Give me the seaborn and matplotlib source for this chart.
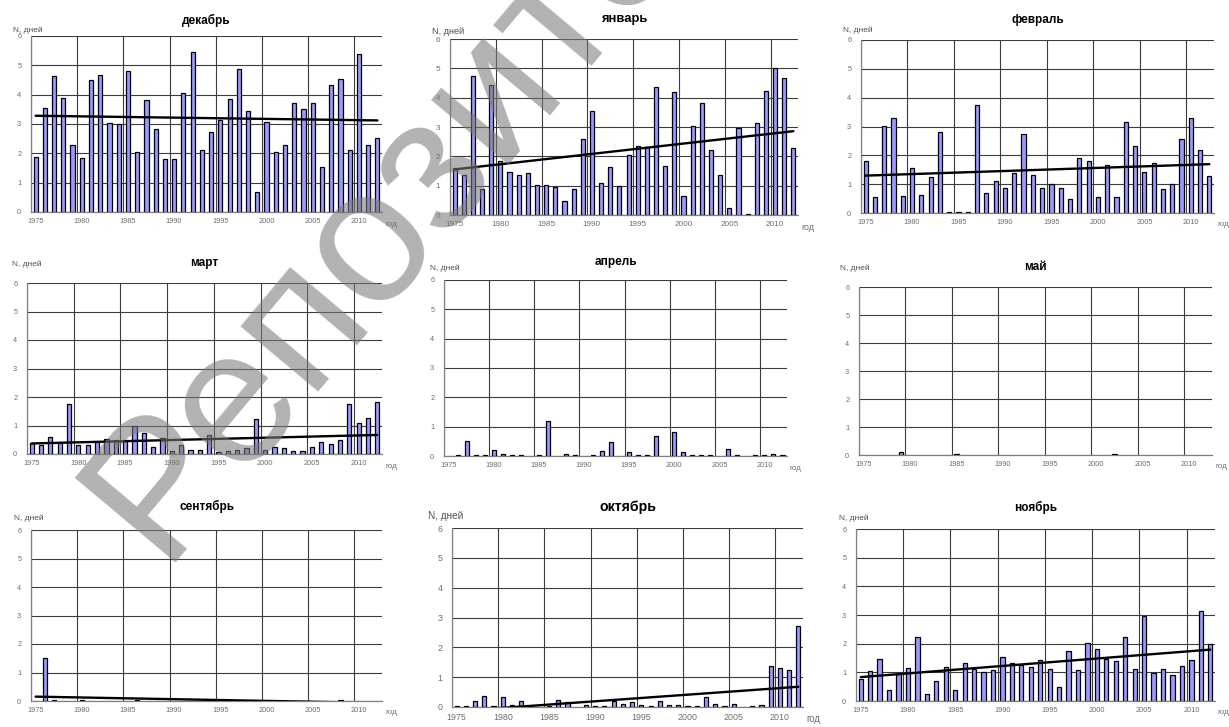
import numpy as np
import pandas as pd
import matplotlib
matplotlib.use("Agg")
import matplotlib.pyplot as plt
import seaborn as sns

years = list(range(1975, 2013))

dec = [1.87, 3.55, 4.65, 3.90, 2.28, 1.83, 4.50, 4.67, 3.03, 3.00, 4.80, 2.05, 3.82,
       2.82, 1.80, 1.80, 4.05, 5.45, 2.13, 2.72, 3.13, 3.85, 4.88, 3.43, 0.67, 3.07,
       2.03, 2.28, 3.70, 3.50, 3.73, 1.53, 4.33, 4.55, 2.10, 5.37, 2.27, 2.53]
jan = [1.60, 1.38, 4.73, 0.87, 4.43, 1.85, 1.48, 1.38, 1.43, 1.03, 1.03, 0.95, 0.47,
       0.87, 2.58, 3.55, 1.08, 1.65, 0.98, 2.03, 2.35, 2.32, 4.37, 1.67, 4.18, 0.65,
       3.02, 3.82, 2.20, 1.37, 0.23, 2.95, 0.03, 3.12, 4.22, 5.00, 4.67, 2.30]
feb = [1.80, 0.55, 3.02, 3.28, 0.58, 1.55, 0.62, 1.25, 2.80, 0.05, 0.05, 0.02, 3.73,
       0.68, 1.10, 0.85, 1.38, 2.73, 1.32, 0.88, 1.00, 0.88, 0.48, 1.90, 1.80, 0.55,
       1.65, 0.55, 3.15, 2.32, 1.42, 1.72, 0.82, 1.00, 2.57, 3.28, 2.20, 1.28]
mar = [0.38, 0.33, 0.58, 0.38, 1.75, 0.33, 0.33, 0.42, 0.52, 0.48, 0.48, 0.98, 0.72,
       0.25, 0.55, 0.10, 0.32, 0.13, 0.13, 0.67, 0.07, 0.10, 0.13, 0.20, 1.23, 0.13,
       0.23, 0.20, 0.10, 0.10, 0.25, 0.42, 0.35, 0.48, 1.75, 1.08, 1.25, 1.82]
apr = [0.00, 0.05, 0.52, 0.05, 0.05, 0.22, 0.08, 0.03, 0.05, 0.00, 0.03, 1.20, 0.00,
       0.07, 0.03, 0.00, 0.03, 0.17, 0.48, 0.00, 0.12, 0.03, 0.02, 0.68, 0.00, 0.82,
       0.12, 0.05, 0.03, 0.02, 0.00, 0.25, 0.02, 0.00, 0.02, 0.05, 0.08, 0.05]
may = [0.00, 0.00, 0.00, 0.00, 0.10, 0.00, 0.00, 0.00, 0.00, 0.00, 0.02, 0.00, 0.00,
       0.00, 0.00, 0.00, 0.00, 0.00, 0.00, 0.00, 0.00, 0.00, 0.00, 0.00, 0.00, 0.00,
       0.00, 0.02, 0.00, 0.00, 0.00, 0.00, 0.00, 0.00, 0.00, 0.00, 0.00, 0.00]
sep = [0.00, 1.52, 0.03, 0.00, 0.00, 0.02, 0.00, 0.00, 0.00, 0.00, 0.00, 0.03, 0.00,
       0.00, 0.00, 0.00, 0.00, 0.00, 0.00, 0.00, 0.00, 0.00, 0.00, 0.00, 0.00, 0.00,
       0.00, 0.00, 0.00, 0.00, 0.00, 0.00, 0.00, 0.02, 0.00, 0.00, 0.00, 0.00]
octo = [0.05, 0.03, 0.20, 0.38, 0.03, 0.33, 0.08, 0.20, 0.00, 0.00, 0.03, 0.22, 0.18,
        0.00, 0.07, 0.05, 0.05, 0.20, 0.10, 0.17, 0.08, 0.05, 0.20, 0.07, 0.08, 0.05,
        0.05, 0.33, 0.10, 0.02, 0.10, 0.00, 0.03, 0.08, 1.38, 1.30, 1.25, 2.70]
nov = [0.78, 1.05, 1.45, 0.38, 0.95, 1.15, 2.22, 0.25, 0.70, 1.18, 0.38, 1.33, 1.10,
       1.02, 1.08, 1.53, 1.32, 1.25, 1.20, 1.43, 1.10, 0.48, 1.73, 1.08, 2.03, 1.80,
       1.45, 1.40, 2.25, 1.12, 2.95, 0.98, 1.12, 0.90, 1.22, 1.43, 3.13, 1.98]

titles = ["декабрь", "январь", "февраль", "март", "апрель", "май",
          "сентябрь", "октябрь", "ноябрь"]
series = [dec, jan, feb, mar, apr, may, sep, octo, nov]
has_trend = [True, True, True, True, False, False, True, True, True]
tick_years = list(range(1975, 2011, 5))
y_label = "N, дней"
x_label = "год"
watermark = "Репозиторий"

sns.set_theme(style="white")
plt.rcParams["font.family"] = ["Liberation Sans", "DejaVu Sans"]

W, H = 1229, 727
fig = plt.figure(figsize=(W / 100, H / 100), dpi=100)

# left, right, top, bottom in pixels
boxes = [(31, 382, 36, 212), (450, 798, 39, 215), (861, 1214, 40, 213),
         (27, 382, 283, 454), (444, 787, 280, 456), (859, 1212, 287, 455),
         (31, 382, 530, 701), (452, 803, 528, 707), (856, 1215, 529, 701)]
title_off = [16, 20, 20, 20, 18, 20, 24, 21, 22]
ylab_off = [(-18, 6), (-18, 8), (-18, 10), (-15, 19), (-14, 12), (-19, 19),
            (-17, 12), (-24, 12), (-17, 11)]
fscale = [1.0, 1.1, 1.0, 1.0, 1.0, 1.0, 1.0, 1.2, 1.0]

grid_c = "#3c3c3c"
lab_c = "#6e6e6e"

for i, (title, vals) in enumerate(zip(titles, series)):
    l, r, t, b = boxes[i]
    ax = fig.add_axes([l / W, 1 - b / H, (r - l) / W, (b - t) / H])
    df = pd.DataFrame({"year": years, "n": vals})
    df["pos"] = df["year"] + 0.5
    sns.barplot(data=df, x="pos", y="n", native_scale=True, width=0.45,
                color="#9999ff", saturation=1, edgecolor="black", linewidth=0.9,
                errorbar=None, ax=ax, zorder=3)
    for p in ax.patches:
        if p.get_height() == 0:
            p.set_visible(False)
    if has_trend[i]:
        sns.regplot(data=df, x="pos", y="n", scatter=False, ci=None, truncate=True,
                    color="black", line_kws={"lw": 1.7, "zorder": 4}, ax=ax)
    ax.set_xlim(1975, 2013)
    ax.set_ylim(0, 6)
    ax.set_xticks(range(1975, 2011, 5))
    ax.set_xticklabels([])
    ax.set_xticks([y + 0.5 for y in tick_years], minor=True)
    fs = 5.3 * fscale[i]
    ax.set_xticklabels([str(y) for y in tick_years], minor=True, fontsize=fs, color=lab_c)
    ax.set_yticks(range(0, 7))
    ax.set_yticklabels([str(v) for v in range(0, 7)], fontsize=fs, color=lab_c)
    ax.tick_params(axis="x", which="minor", length=0, pad=4)
    ax.tick_params(axis="x", which="major", length=3, width=0.6, color="#888888", direction="out")
    ax.tick_params(axis="y", which="major", length=3, width=0.6, color="#888888", pad=4)
    ax.set_xlabel("")
    ax.set_ylabel("")
    ax.grid(True, which="major", color=grid_c, lw=0.8, zorder=0)
    ax.set_axisbelow(True)
    for s in ["top", "right"]:
        ax.spines[s].set_visible(False)
    for s in ["left", "bottom"]:
        ax.spines[s].set_color("#808080")
        ax.spines[s].set_linewidth(0.9)
    ax.annotate(title, xy=(0.5, 1), xycoords="axes fraction",
                xytext=(0, title_off[i]), textcoords="offset pixels",
                ha="center", va="center", fontsize=8.5 * fscale[i], fontweight="bold",
                color="black")
    ax.annotate(y_label, xy=(0, 1), xycoords="axes fraction",
                xytext=ylab_off[i], textcoords="offset pixels",
                ha="left", va="center", fontsize=6.0 * fscale[i], color="#505050")
    ax.annotate(x_label, xy=(1, 0), xycoords="axes fraction",
                xytext=(3, -12), textcoords="offset pixels",
                ha="left", va="center", fontsize=5.8 * fscale[i], color=lab_c)

fig.text(160 / W, 1 - 562 / H, watermark, rotation=50, rotation_mode="anchor",
         ha="left", va="baseline", fontsize=138, fontweight="normal",
         color="#7a7a7a", alpha=0.58, zorder=20)

fig.savefig("out.png", dpi=100)
